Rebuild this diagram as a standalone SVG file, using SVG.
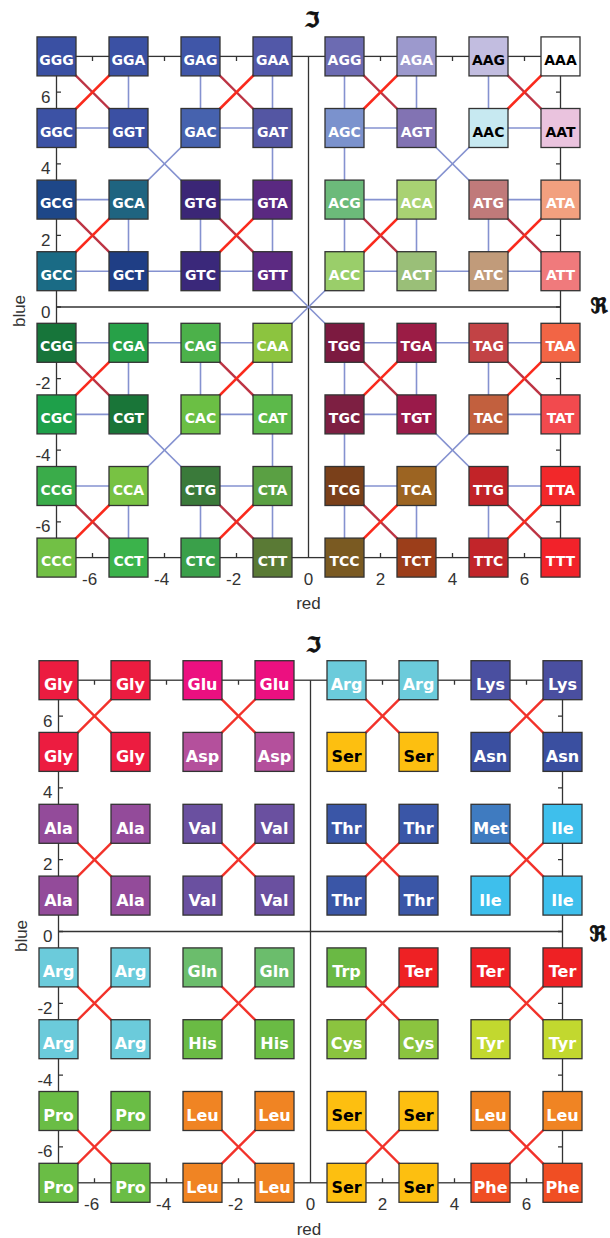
<svg xmlns="http://www.w3.org/2000/svg" width="610" height="1238" viewBox="0 0 610 1238">
<style>
.bg{fill:#fff}
.fr{fill:none;stroke:#333;stroke-width:1.3}
.tk{stroke:#333;stroke-width:1.3}
.b{stroke:#333;stroke-width:1.3}
.t{font-family:"DejaVu Sans",sans-serif;font-weight:bold;font-size:14px;fill:#fff;text-anchor:middle}
.t2{font-family:"DejaVu Sans",sans-serif;font-weight:bold;font-size:16px;fill:#fff;text-anchor:middle}
.k{fill:#000}
.bl{stroke:#8592d0;stroke-width:1.6}
.rd{stroke:#bd3444;stroke-width:2.4}
.rb{stroke:#fa2a1c;stroke-width:2.6}
.r2{stroke:#f2322a;stroke-width:2.4}
.lb{font-family:"Liberation Sans",Arial,sans-serif;font-size:17px;fill:#333}
.le{text-anchor:end}
.lm{text-anchor:middle}
.sy{font-family:"DejaVu Sans",sans-serif;font-weight:bold;font-size:21px;fill:#111;stroke:#111;stroke-width:0.9;text-anchor:middle}
</style>
<rect class="bg" x="0" y="0" width="610" height="1238"/>

<!-- ===== TOP CHART ===== -->
<g id="top-axes">
<rect class="fr" x="56.5" y="56.4" width="504" height="501.2"/>
<line class="fr" x1="308.5" y1="56.4" x2="308.5" y2="557.6"/>
<line class="fr" x1="56.5" y1="307" x2="560.5" y2="307"/>
<path class="tk" d="M92.5 56.4V61M164.5 56.4V61M236.5 56.4V61M380.5 56.4V61M452.5 56.4V61M524.5 56.4V61M92.5 557.6V553M164.5 557.6V553M236.5 557.6V553M380.5 557.6V553M452.5 557.6V553M524.5 557.6V553M56.5 92.2H61M56.5 163.8H61M56.5 235.4H61M56.5 307H61M56.5 378.6H61M56.5 450.2H61M56.5 521.8H61M560.5 92.2H556M560.5 163.8H556M560.5 235.4H556M560.5 307H556M560.5 378.6H556M560.5 450.2H556M560.5 521.8H556"/>
<text class="lb le" x="97.2" y="585">-6</text>
<text class="lb le" x="169.2" y="585">-4</text>
<text class="lb le" x="241.2" y="585">-2</text>
<text class="lb le" x="313.2" y="585">0</text>
<text class="lb le" x="385.2" y="585">2</text>
<text class="lb le" x="457.2" y="585">4</text>
<text class="lb le" x="529.2" y="585">6</text>
<text class="lb le" x="50.5" y="102.7">6</text>
<text class="lb le" x="50.5" y="174.3">4</text>
<text class="lb le" x="50.5" y="245.9">2</text>
<text class="lb le" x="50.5" y="317.5">0</text>
<text class="lb le" x="50.5" y="389.1">-2</text>
<text class="lb le" x="50.5" y="460.7">-4</text>
<text class="lb le" x="50.5" y="532.3">-6</text>
<text class="lb lm" x="308.5" y="609">red</text>
<text class="lb lm" transform="translate(25 311) rotate(-90)">blue</text>
<text class="sy" x="312" y="27">ℑ</text>
<text class="sy" x="599" y="313">ℜ</text>
</g>

<g id="top-connectors">
<g class="bl">
<line x1="128.5" y1="56.4" x2="128.5" y2="128"/>
<line x1="56.5" y1="128" x2="128.5" y2="128"/>
<line x1="200.5" y1="56.4" x2="200.5" y2="128"/>
<line x1="200.5" y1="128" x2="272.5" y2="128"/>
<line x1="272.5" y1="56.4" x2="272.5" y2="128"/>
<line x1="128.5" y1="128" x2="200.5" y2="199.6"/>
<line x1="200.5" y1="128" x2="128.5" y2="199.6"/>
<line x1="272.5" y1="128" x2="272.5" y2="199.6"/>
<line x1="56.5" y1="199.6" x2="128.5" y2="199.6"/>
<line x1="128.5" y1="199.6" x2="128.5" y2="271.2"/>
<line x1="56.5" y1="271.2" x2="128.5" y2="271.2"/>
<line x1="128.5" y1="271.2" x2="200.5" y2="271.2"/>
<line x1="200.5" y1="199.6" x2="272.5" y2="199.6"/>
<line x1="200.5" y1="199.6" x2="200.5" y2="271.2"/>
<line x1="272.5" y1="199.6" x2="272.5" y2="271.2"/>
<line x1="200.5" y1="271.2" x2="272.5" y2="271.2"/>
<line x1="344.5" y1="56.4" x2="344.5" y2="128"/>
<line x1="416.5" y1="56.4" x2="416.5" y2="128"/>
<line x1="344.5" y1="128" x2="416.5" y2="128"/>
<line x1="488.5" y1="56.4" x2="488.5" y2="128"/>
<line x1="488.5" y1="128" x2="560.5" y2="128"/>
<line x1="344.5" y1="128" x2="344.5" y2="199.6"/>
<line x1="416.5" y1="128" x2="488.5" y2="199.6"/>
<line x1="488.5" y1="128" x2="416.5" y2="199.6"/>
<line x1="344.5" y1="199.6" x2="416.5" y2="199.6"/>
<line x1="344.5" y1="199.6" x2="344.5" y2="271.2"/>
<line x1="416.5" y1="199.6" x2="416.5" y2="271.2"/>
<line x1="344.5" y1="271.2" x2="416.5" y2="271.2"/>
<line x1="416.5" y1="271.2" x2="488.5" y2="271.2"/>
<line x1="488.5" y1="199.6" x2="560.5" y2="199.6"/>
<line x1="488.5" y1="199.6" x2="488.5" y2="271.2"/>
<line x1="488.5" y1="271.2" x2="560.5" y2="271.2"/>
<line x1="56.5" y1="342.8" x2="128.5" y2="342.8"/>
<line x1="128.5" y1="342.8" x2="200.5" y2="342.8"/>
<line x1="200.5" y1="342.8" x2="272.5" y2="342.8"/>
<line x1="128.5" y1="342.8" x2="128.5" y2="414.4"/>
<line x1="56.5" y1="414.4" x2="128.5" y2="414.4"/>
<line x1="200.5" y1="342.8" x2="200.5" y2="414.4"/>
<line x1="272.5" y1="342.8" x2="272.5" y2="414.4"/>
<line x1="200.5" y1="414.4" x2="272.5" y2="414.4"/>
<line x1="128.5" y1="414.4" x2="200.5" y2="486"/>
<line x1="200.5" y1="414.4" x2="128.5" y2="486"/>
<line x1="272.5" y1="414.4" x2="272.5" y2="486"/>
<line x1="56.5" y1="486" x2="128.5" y2="486"/>
<line x1="128.5" y1="486" x2="128.5" y2="557.6"/>
<line x1="200.5" y1="486" x2="272.5" y2="486"/>
<line x1="200.5" y1="486" x2="200.5" y2="557.6"/>
<line x1="272.5" y1="486" x2="272.5" y2="557.6"/>
<line x1="344.5" y1="342.8" x2="416.5" y2="342.8"/>
<line x1="416.5" y1="342.8" x2="488.5" y2="342.8"/>
<line x1="488.5" y1="342.8" x2="560.5" y2="342.8"/>
<line x1="344.5" y1="342.8" x2="344.5" y2="414.4"/>
<line x1="416.5" y1="342.8" x2="416.5" y2="414.4"/>
<line x1="344.5" y1="414.4" x2="416.5" y2="414.4"/>
<line x1="488.5" y1="342.8" x2="488.5" y2="414.4"/>
<line x1="488.5" y1="414.4" x2="560.5" y2="414.4"/>
<line x1="344.5" y1="414.4" x2="344.5" y2="486"/>
<line x1="416.5" y1="414.4" x2="488.5" y2="486"/>
<line x1="488.5" y1="414.4" x2="416.5" y2="486"/>
<line x1="344.5" y1="486" x2="416.5" y2="486"/>
<line x1="344.5" y1="486" x2="344.5" y2="557.6"/>
<line x1="416.5" y1="486" x2="416.5" y2="557.6"/>
<line x1="488.5" y1="486" x2="560.5" y2="486"/>
<line x1="488.5" y1="486" x2="488.5" y2="557.6"/>
<line x1="272.5" y1="271.2" x2="344.5" y2="342.8"/>
<line x1="344.5" y1="271.2" x2="272.5" y2="342.8"/>
</g>
<g class="rd">
<line x1="56.5" y1="56.4" x2="128.5" y2="128"/>
<line x1="200.5" y1="56.4" x2="272.5" y2="128"/>
<line x1="344.5" y1="56.4" x2="416.5" y2="128"/>
<line x1="488.5" y1="56.4" x2="560.5" y2="128"/>
<line x1="56.5" y1="199.6" x2="128.5" y2="271.2"/>
<line x1="200.5" y1="199.6" x2="272.5" y2="271.2"/>
<line x1="344.5" y1="199.6" x2="416.5" y2="271.2"/>
<line x1="488.5" y1="199.6" x2="560.5" y2="271.2"/>
<line x1="56.5" y1="342.8" x2="128.5" y2="414.4"/>
<line x1="200.5" y1="342.8" x2="272.5" y2="414.4"/>
<line x1="344.5" y1="342.8" x2="416.5" y2="414.4"/>
<line x1="488.5" y1="342.8" x2="560.5" y2="414.4"/>
<line x1="56.5" y1="486" x2="128.5" y2="557.6"/>
<line x1="200.5" y1="486" x2="272.5" y2="557.6"/>
<line x1="344.5" y1="486" x2="416.5" y2="557.6"/>
<line x1="488.5" y1="486" x2="560.5" y2="557.6"/>
</g>
<g class="rb">
<line x1="56.5" y1="128" x2="128.5" y2="56.4"/>
<line x1="200.5" y1="128" x2="272.5" y2="56.4"/>
<line x1="344.5" y1="128" x2="416.5" y2="56.4"/>
<line x1="488.5" y1="128" x2="560.5" y2="56.4"/>
<line x1="56.5" y1="271.2" x2="128.5" y2="199.6"/>
<line x1="200.5" y1="271.2" x2="272.5" y2="199.6"/>
<line x1="344.5" y1="271.2" x2="416.5" y2="199.6"/>
<line x1="488.5" y1="271.2" x2="560.5" y2="199.6"/>
<line x1="56.5" y1="414.4" x2="128.5" y2="342.8"/>
<line x1="200.5" y1="414.4" x2="272.5" y2="342.8"/>
<line x1="344.5" y1="414.4" x2="416.5" y2="342.8"/>
<line x1="488.5" y1="414.4" x2="560.5" y2="342.8"/>
<line x1="56.5" y1="557.6" x2="128.5" y2="486"/>
<line x1="200.5" y1="557.6" x2="272.5" y2="486"/>
<line x1="344.5" y1="557.6" x2="416.5" y2="486"/>
<line x1="488.5" y1="557.6" x2="560.5" y2="486"/>
</g>
</g>

<g id="top-nodes">
<g id="GGG" transform="translate(56.5 56.4)"><rect class="b" x="-19.5" y="-19.5" width="39" height="39" fill="#3a50a3"/><text class="t" y="8.5">GGG</text></g>
<g id="GGA" transform="translate(128.5 56.4)"><rect class="b" x="-19.5" y="-19.5" width="39" height="39" fill="#3b51a4"/><text class="t" y="8.5">GGA</text></g>
<g id="GAG" transform="translate(200.5 56.4)"><rect class="b" x="-19.5" y="-19.5" width="39" height="39" fill="#4056a8"/><text class="t" y="8.5">GAG</text></g>
<g id="GAA" transform="translate(272.5 56.4)"><rect class="b" x="-19.5" y="-19.5" width="39" height="39" fill="#5258a8"/><text class="t" y="8.5">GAA</text></g>
<g id="AGG" transform="translate(344.5 56.4)"><rect class="b" x="-19.5" y="-19.5" width="39" height="39" fill="#6c6bb2"/><text class="t" y="8.5">AGG</text></g>
<g id="AGA" transform="translate(416.5 56.4)"><rect class="b" x="-19.5" y="-19.5" width="39" height="39" fill="#9c99cd"/><text class="t" y="8.5">AGA</text></g>
<g id="AAG" transform="translate(488.5 56.4)"><rect class="b" x="-19.5" y="-19.5" width="39" height="39" fill="#c2bde0"/><text class="t k" y="8.5">AAG</text></g>
<g id="AAA" transform="translate(560.5 56.4)"><rect class="b" x="-19.5" y="-19.5" width="39" height="39" fill="#ffffff"/><text class="t k" y="8.5">AAA</text></g>

<g id="GGC" transform="translate(56.5 128)"><rect class="b" x="-19.5" y="-19.5" width="39" height="39" fill="#3c52a5"/><text class="t" y="8.5">GGC</text></g>
<g id="GGT" transform="translate(128.5 128)"><rect class="b" x="-19.5" y="-19.5" width="39" height="39" fill="#3b50a3"/><text class="t" y="8.5">GGT</text></g>
<g id="GAC" transform="translate(200.5 128)"><rect class="b" x="-19.5" y="-19.5" width="39" height="39" fill="#4662ae"/><text class="t" y="8.5">GAC</text></g>
<g id="GAT" transform="translate(272.5 128)"><rect class="b" x="-19.5" y="-19.5" width="39" height="39" fill="#5456a3"/><text class="t" y="8.5">GAT</text></g>
<g id="AGC" transform="translate(344.5 128)"><rect class="b" x="-19.5" y="-19.5" width="39" height="39" fill="#7b92cd"/><text class="t" y="8.5">AGC</text></g>
<g id="AGT" transform="translate(416.5 128)"><rect class="b" x="-19.5" y="-19.5" width="39" height="39" fill="#8273b3"/><text class="t" y="8.5">AGT</text></g>
<g id="AAC" transform="translate(488.5 128)"><rect class="b" x="-19.5" y="-19.5" width="39" height="39" fill="#c7e9f1"/><text class="t k" y="8.5">AAC</text></g>
<g id="AAT" transform="translate(560.5 128)"><rect class="b" x="-19.5" y="-19.5" width="39" height="39" fill="#eac3de"/><text class="t k" y="8.5">AAT</text></g>

<g id="GCG" transform="translate(56.5 199.6)"><rect class="b" x="-19.5" y="-19.5" width="39" height="39" fill="#1e4788"/><text class="t" y="8.5">GCG</text></g>
<g id="GCA" transform="translate(128.5 199.6)"><rect class="b" x="-19.5" y="-19.5" width="39" height="39" fill="#1f6480"/><text class="t" y="8.5">GCA</text></g>
<g id="GTG" transform="translate(200.5 199.6)"><rect class="b" x="-19.5" y="-19.5" width="39" height="39" fill="#3b2676"/><text class="t" y="8.5">GTG</text></g>
<g id="GTA" transform="translate(272.5 199.6)"><rect class="b" x="-19.5" y="-19.5" width="39" height="39" fill="#5a2981"/><text class="t" y="8.5">GTA</text></g>
<g id="ACG" transform="translate(344.5 199.6)"><rect class="b" x="-19.5" y="-19.5" width="39" height="39" fill="#6cba7a"/><text class="t" y="8.5">ACG</text></g>
<g id="ACA" transform="translate(416.5 199.6)"><rect class="b" x="-19.5" y="-19.5" width="39" height="39" fill="#a9d273"/><text class="t" y="8.5">ACA</text></g>
<g id="ATG" transform="translate(488.5 199.6)"><rect class="b" x="-19.5" y="-19.5" width="39" height="39" fill="#c07a7a"/><text class="t" y="8.5">ATG</text></g>
<g id="ATA" transform="translate(560.5 199.6)"><rect class="b" x="-19.5" y="-19.5" width="39" height="39" fill="#f2a07f"/><text class="t" y="8.5">ATA</text></g>

<g id="GCC" transform="translate(56.5 271.2)"><rect class="b" x="-19.5" y="-19.5" width="39" height="39" fill="#1a6b85"/><text class="t" y="8.5">GCC</text></g>
<g id="GCT" transform="translate(128.5 271.2)"><rect class="b" x="-19.5" y="-19.5" width="39" height="39" fill="#1f3e85"/><text class="t" y="8.5">GCT</text></g>
<g id="GTC" transform="translate(200.5 271.2)"><rect class="b" x="-19.5" y="-19.5" width="39" height="39" fill="#3a287a"/><text class="t" y="8.5">GTC</text></g>
<g id="GTT" transform="translate(272.5 271.2)"><rect class="b" x="-19.5" y="-19.5" width="39" height="39" fill="#5c2a82"/><text class="t" y="8.5">GTT</text></g>
<g id="ACC" transform="translate(344.5 271.2)"><rect class="b" x="-19.5" y="-19.5" width="39" height="39" fill="#9ace6a"/><text class="t" y="8.5">ACC</text></g>
<g id="ACT" transform="translate(416.5 271.2)"><rect class="b" x="-19.5" y="-19.5" width="39" height="39" fill="#9abf78"/><text class="t" y="8.5">ACT</text></g>
<g id="ATC" transform="translate(488.5 271.2)"><rect class="b" x="-19.5" y="-19.5" width="39" height="39" fill="#c19b7a"/><text class="t" y="8.5">ATC</text></g>
<g id="ATT" transform="translate(560.5 271.2)"><rect class="b" x="-19.5" y="-19.5" width="39" height="39" fill="#f07a7c"/><text class="t" y="8.5">ATT</text></g>

<g id="CGG" transform="translate(56.5 342.8)"><rect class="b" x="-19.5" y="-19.5" width="39" height="39" fill="#17753a"/><text class="t" y="8.5">CGG</text></g>
<g id="CGA" transform="translate(128.5 342.8)"><rect class="b" x="-19.5" y="-19.5" width="39" height="39" fill="#27a148"/><text class="t" y="8.5">CGA</text></g>
<g id="CAG" transform="translate(200.5 342.8)"><rect class="b" x="-19.5" y="-19.5" width="39" height="39" fill="#4cb14a"/><text class="t" y="8.5">CAG</text></g>
<g id="CAA" transform="translate(272.5 342.8)"><rect class="b" x="-19.5" y="-19.5" width="39" height="39" fill="#8cc43f"/><text class="t" y="8.5">CAA</text></g>
<g id="TGG" transform="translate(344.5 342.8)"><rect class="b" x="-19.5" y="-19.5" width="39" height="39" fill="#7c1a40"/><text class="t" y="8.5">TGG</text></g>
<g id="TGA" transform="translate(416.5 342.8)"><rect class="b" x="-19.5" y="-19.5" width="39" height="39" fill="#9b1c45"/><text class="t" y="8.5">TGA</text></g>
<g id="TAG" transform="translate(488.5 342.8)"><rect class="b" x="-19.5" y="-19.5" width="39" height="39" fill="#c24345"/><text class="t" y="8.5">TAG</text></g>
<g id="TAA" transform="translate(560.5 342.8)"><rect class="b" x="-19.5" y="-19.5" width="39" height="39" fill="#f26545"/><text class="t" y="8.5">TAA</text></g>

<g id="CGC" transform="translate(56.5 414.4)"><rect class="b" x="-19.5" y="-19.5" width="39" height="39" fill="#1ea04a"/><text class="t" y="8.5">CGC</text></g>
<g id="CGT" transform="translate(128.5 414.4)"><rect class="b" x="-19.5" y="-19.5" width="39" height="39" fill="#197538"/><text class="t" y="8.5">CGT</text></g>
<g id="CAC" transform="translate(200.5 414.4)"><rect class="b" x="-19.5" y="-19.5" width="39" height="39" fill="#6bbf44"/><text class="t" y="8.5">CAC</text></g>
<g id="CAT" transform="translate(272.5 414.4)"><rect class="b" x="-19.5" y="-19.5" width="39" height="39" fill="#5cb94a"/><text class="t" y="8.5">CAT</text></g>
<g id="TGC" transform="translate(344.5 414.4)"><rect class="b" x="-19.5" y="-19.5" width="39" height="39" fill="#7d1f42"/><text class="t" y="8.5">TGC</text></g>
<g id="TGT" transform="translate(416.5 414.4)"><rect class="b" x="-19.5" y="-19.5" width="39" height="39" fill="#9a1a4a"/><text class="t" y="8.5">TGT</text></g>
<g id="TAC" transform="translate(488.5 414.4)"><rect class="b" x="-19.5" y="-19.5" width="39" height="39" fill="#c2603e"/><text class="t" y="8.5">TAC</text></g>
<g id="TAT" transform="translate(560.5 414.4)"><rect class="b" x="-19.5" y="-19.5" width="39" height="39" fill="#f24a4e"/><text class="t" y="8.5">TAT</text></g>

<g id="CCG" transform="translate(56.5 486)"><rect class="b" x="-19.5" y="-19.5" width="39" height="39" fill="#3aac4a"/><text class="t" y="8.5">CCG</text></g>
<g id="CCA" transform="translate(128.5 486)"><rect class="b" x="-19.5" y="-19.5" width="39" height="39" fill="#78c243"/><text class="t" y="8.5">CCA</text></g>
<g id="CTG" transform="translate(200.5 486)"><rect class="b" x="-19.5" y="-19.5" width="39" height="39" fill="#3a7a3a"/><text class="t" y="8.5">CTG</text></g>
<g id="CTA" transform="translate(272.5 486)"><rect class="b" x="-19.5" y="-19.5" width="39" height="39" fill="#5aa043"/><text class="t" y="8.5">CTA</text></g>
<g id="TCG" transform="translate(344.5 486)"><rect class="b" x="-19.5" y="-19.5" width="39" height="39" fill="#7a401a"/><text class="t" y="8.5">TCG</text></g>
<g id="TCA" transform="translate(416.5 486)"><rect class="b" x="-19.5" y="-19.5" width="39" height="39" fill="#9c6422"/><text class="t" y="8.5">TCA</text></g>
<g id="TTG" transform="translate(488.5 486)"><rect class="b" x="-19.5" y="-19.5" width="39" height="39" fill="#c22328"/><text class="t" y="8.5">TTG</text></g>
<g id="TTA" transform="translate(560.5 486)"><rect class="b" x="-19.5" y="-19.5" width="39" height="39" fill="#f2282a"/><text class="t" y="8.5">TTA</text></g>

<g id="CCC" transform="translate(56.5 557.6)"><rect class="b" x="-19.5" y="-19.5" width="39" height="39" fill="#72c045"/><text class="t" y="8.5">CCC</text></g>
<g id="CCT" transform="translate(128.5 557.6)"><rect class="b" x="-19.5" y="-19.5" width="39" height="39" fill="#3bb34b"/><text class="t" y="8.5">CCT</text></g>
<g id="CTC" transform="translate(200.5 557.6)"><rect class="b" x="-19.5" y="-19.5" width="39" height="39" fill="#3aa04a"/><text class="t" y="8.5">CTC</text></g>
<g id="CTT" transform="translate(272.5 557.6)"><rect class="b" x="-19.5" y="-19.5" width="39" height="39" fill="#5a7a35"/><text class="t" y="8.5">CTT</text></g>
<g id="TCC" transform="translate(344.5 557.6)"><rect class="b" x="-19.5" y="-19.5" width="39" height="39" fill="#7a5a22"/><text class="t" y="8.5">TCC</text></g>
<g id="TCT" transform="translate(416.5 557.6)"><rect class="b" x="-19.5" y="-19.5" width="39" height="39" fill="#9c3e1a"/><text class="t" y="8.5">TCT</text></g>
<g id="TTC" transform="translate(488.5 557.6)"><rect class="b" x="-19.5" y="-19.5" width="39" height="39" fill="#c2252a"/><text class="t" y="8.5">TTC</text></g>
<g id="TTT" transform="translate(560.5 557.6)"><rect class="b" x="-19.5" y="-19.5" width="39" height="39" fill="#f2222a"/><text class="t" y="8.5">TTT</text></g>
</g>

<!-- ===== BOTTOM CHART ===== -->
<g id="bottom-axes">
<rect class="fr" x="58.5" y="680.2" width="504" height="502.6"/>
<line class="fr" x1="310.5" y1="680.2" x2="310.5" y2="1182.8"/>
<line class="fr" x1="58.5" y1="931.5" x2="562.5" y2="931.5"/>
<path class="tk" d="M94.5 680.2V684.7M166.5 680.2V684.7M238.5 680.2V684.7M382.5 680.2V684.7M454.5 680.2V684.7M526.5 680.2V684.7M94.5 1182.8V1178.3M166.5 1182.8V1178.3M238.5 1182.8V1178.3M382.5 1182.8V1178.3M454.5 1182.8V1178.3M526.5 1182.8V1178.3M58.5 716.1H63M58.5 787.9H63M58.5 859.7H63M58.5 931.5H63M58.5 1003.3H63M58.5 1075.1H63M58.5 1146.9H63M562.5 716.1H558M562.5 787.9H558M562.5 859.7H558M562.5 931.5H558M562.5 1003.3H558M562.5 1075.1H558M562.5 1146.9H558"/>
<text class="lb le" x="99.2" y="1210">-6</text>
<text class="lb le" x="171.2" y="1210">-4</text>
<text class="lb le" x="243.2" y="1210">-2</text>
<text class="lb le" x="315.2" y="1210">0</text>
<text class="lb le" x="387.2" y="1210">2</text>
<text class="lb le" x="459.2" y="1210">4</text>
<text class="lb le" x="531.2" y="1210">6</text>
<text class="lb le" x="52.5" y="726.6">6</text>
<text class="lb le" x="52.5" y="798.4">4</text>
<text class="lb le" x="52.5" y="870.2">2</text>
<text class="lb le" x="52.5" y="942">0</text>
<text class="lb le" x="52.5" y="1013.8">-2</text>
<text class="lb le" x="52.5" y="1085.6">-4</text>
<text class="lb le" x="52.5" y="1157.4">-6</text>
<text class="lb lm" x="309" y="1235">red</text>
<text class="lb lm" transform="translate(27 936) rotate(-90)">blue</text>
<text class="sy" x="313.5" y="652">ℑ</text>
<text class="sy" x="598" y="941">ℜ</text>
</g>

<g id="bottom-connectors" class="r2">
<line x1="58.5" y1="680.2" x2="130.5" y2="751.9"/>
<line x1="58.5" y1="751.9" x2="130.5" y2="680.2"/>
<line x1="202.5" y1="680.2" x2="274.5" y2="751.9"/>
<line x1="202.5" y1="751.9" x2="274.5" y2="680.2"/>
<line x1="346.5" y1="680.2" x2="418.5" y2="751.9"/>
<line x1="346.5" y1="751.9" x2="418.5" y2="680.2"/>
<line x1="490.5" y1="680.2" x2="562.5" y2="751.9"/>
<line x1="490.5" y1="751.9" x2="562.5" y2="680.2"/>
<line x1="58.5" y1="823.8" x2="130.5" y2="895.6"/>
<line x1="58.5" y1="895.6" x2="130.5" y2="823.8"/>
<line x1="202.5" y1="823.8" x2="274.5" y2="895.6"/>
<line x1="202.5" y1="895.6" x2="274.5" y2="823.8"/>
<line x1="346.5" y1="823.8" x2="418.5" y2="895.6"/>
<line x1="346.5" y1="895.6" x2="418.5" y2="823.8"/>
<line x1="490.5" y1="823.8" x2="562.5" y2="895.6"/>
<line x1="490.5" y1="895.6" x2="562.5" y2="823.8"/>
<line x1="58.5" y1="967.4" x2="130.5" y2="1039.2"/>
<line x1="58.5" y1="1039.2" x2="130.5" y2="967.4"/>
<line x1="202.5" y1="967.4" x2="274.5" y2="1039.2"/>
<line x1="202.5" y1="1039.2" x2="274.5" y2="967.4"/>
<line x1="346.5" y1="967.4" x2="418.5" y2="1039.2"/>
<line x1="346.5" y1="1039.2" x2="418.5" y2="967.4"/>
<line x1="490.5" y1="967.4" x2="562.5" y2="1039.2"/>
<line x1="490.5" y1="1039.2" x2="562.5" y2="967.4"/>
<line x1="58.5" y1="1111" x2="130.5" y2="1182.8"/>
<line x1="58.5" y1="1182.8" x2="130.5" y2="1111"/>
<line x1="202.5" y1="1111" x2="274.5" y2="1182.8"/>
<line x1="202.5" y1="1182.8" x2="274.5" y2="1111"/>
<line x1="346.5" y1="1111" x2="418.5" y2="1182.8"/>
<line x1="346.5" y1="1182.8" x2="418.5" y2="1111"/>
<line x1="490.5" y1="1111" x2="562.5" y2="1182.8"/>
<line x1="490.5" y1="1182.8" x2="562.5" y2="1111"/>
</g>

<g id="bottom-nodes">
<g id="aa-r1c1" transform="translate(58.5 680.2)"><rect class="b" x="-19.5" y="-19.5" width="39" height="39" fill="#ec1c40"/><text class="t2" y="10">Gly</text></g>
<g id="aa-r1c2" transform="translate(130.5 680.2)"><rect class="b" x="-19.5" y="-19.5" width="39" height="39" fill="#ec1c40"/><text class="t2" y="10">Gly</text></g>
<g id="aa-r1c3" transform="translate(202.5 680.2)"><rect class="b" x="-19.5" y="-19.5" width="39" height="39" fill="#ec1080"/><text class="t2" y="10">Glu</text></g>
<g id="aa-r1c4" transform="translate(274.5 680.2)"><rect class="b" x="-19.5" y="-19.5" width="39" height="39" fill="#ec1080"/><text class="t2" y="10">Glu</text></g>
<g id="aa-r1c5" transform="translate(346.5 680.2)"><rect class="b" x="-19.5" y="-19.5" width="39" height="39" fill="#6bcbdb"/><text class="t2" y="10">Arg</text></g>
<g id="aa-r1c6" transform="translate(418.5 680.2)"><rect class="b" x="-19.5" y="-19.5" width="39" height="39" fill="#6bcbdb"/><text class="t2" y="10">Arg</text></g>
<g id="aa-r1c7" transform="translate(490.5 680.2)"><rect class="b" x="-19.5" y="-19.5" width="39" height="39" fill="#4a4fa0"/><text class="t2" y="10">Lys</text></g>
<g id="aa-r1c8" transform="translate(562.5 680.2)"><rect class="b" x="-19.5" y="-19.5" width="39" height="39" fill="#4a4fa0"/><text class="t2" y="10">Lys</text></g>

<g id="aa-r2c1" transform="translate(58.5 751.9)"><rect class="b" x="-19.5" y="-19.5" width="39" height="39" fill="#ec1c40"/><text class="t2" y="10">Gly</text></g>
<g id="aa-r2c2" transform="translate(130.5 751.9)"><rect class="b" x="-19.5" y="-19.5" width="39" height="39" fill="#ec1c40"/><text class="t2" y="10">Gly</text></g>
<g id="aa-r2c3" transform="translate(202.5 751.9)"><rect class="b" x="-19.5" y="-19.5" width="39" height="39" fill="#b4509c"/><text class="t2" y="10">Asp</text></g>
<g id="aa-r2c4" transform="translate(274.5 751.9)"><rect class="b" x="-19.5" y="-19.5" width="39" height="39" fill="#b4509c"/><text class="t2" y="10">Asp</text></g>
<g id="aa-r2c5" transform="translate(346.5 751.9)"><rect class="b" x="-19.5" y="-19.5" width="39" height="39" fill="#fdbf10"/><text class="t2 k" y="10">Ser</text></g>
<g id="aa-r2c6" transform="translate(418.5 751.9)"><rect class="b" x="-19.5" y="-19.5" width="39" height="39" fill="#fdbf10"/><text class="t2 k" y="10">Ser</text></g>
<g id="aa-r2c7" transform="translate(490.5 751.9)"><rect class="b" x="-19.5" y="-19.5" width="39" height="39" fill="#3a4fa0"/><text class="t2" y="10">Asn</text></g>
<g id="aa-r2c8" transform="translate(562.5 751.9)"><rect class="b" x="-19.5" y="-19.5" width="39" height="39" fill="#3a4fa0"/><text class="t2" y="10">Asn</text></g>

<g id="aa-r3c1" transform="translate(58.5 823.8)"><rect class="b" x="-19.5" y="-19.5" width="39" height="39" fill="#934b9a"/><text class="t2" y="10">Ala</text></g>
<g id="aa-r3c2" transform="translate(130.5 823.8)"><rect class="b" x="-19.5" y="-19.5" width="39" height="39" fill="#934b9a"/><text class="t2" y="10">Ala</text></g>
<g id="aa-r3c3" transform="translate(202.5 823.8)"><rect class="b" x="-19.5" y="-19.5" width="39" height="39" fill="#6a50a0"/><text class="t2" y="10">Val</text></g>
<g id="aa-r3c4" transform="translate(274.5 823.8)"><rect class="b" x="-19.5" y="-19.5" width="39" height="39" fill="#6a50a0"/><text class="t2" y="10">Val</text></g>
<g id="aa-r3c5" transform="translate(346.5 823.8)"><rect class="b" x="-19.5" y="-19.5" width="39" height="39" fill="#3a56a7"/><text class="t2" y="10">Thr</text></g>
<g id="aa-r3c6" transform="translate(418.5 823.8)"><rect class="b" x="-19.5" y="-19.5" width="39" height="39" fill="#3a56a7"/><text class="t2" y="10">Thr</text></g>
<g id="aa-r3c7" transform="translate(490.5 823.8)"><rect class="b" x="-19.5" y="-19.5" width="39" height="39" fill="#3f7bc0"/><text class="t2" y="10">Met</text></g>
<g id="aa-r3c8" transform="translate(562.5 823.8)"><rect class="b" x="-19.5" y="-19.5" width="39" height="39" fill="#3ebfec"/><text class="t2" y="10">Ile</text></g>

<g id="aa-r4c1" transform="translate(58.5 895.6)"><rect class="b" x="-19.5" y="-19.5" width="39" height="39" fill="#934b9a"/><text class="t2" y="10">Ala</text></g>
<g id="aa-r4c2" transform="translate(130.5 895.6)"><rect class="b" x="-19.5" y="-19.5" width="39" height="39" fill="#934b9a"/><text class="t2" y="10">Ala</text></g>
<g id="aa-r4c3" transform="translate(202.5 895.6)"><rect class="b" x="-19.5" y="-19.5" width="39" height="39" fill="#6a50a0"/><text class="t2" y="10">Val</text></g>
<g id="aa-r4c4" transform="translate(274.5 895.6)"><rect class="b" x="-19.5" y="-19.5" width="39" height="39" fill="#6a50a0"/><text class="t2" y="10">Val</text></g>
<g id="aa-r4c5" transform="translate(346.5 895.6)"><rect class="b" x="-19.5" y="-19.5" width="39" height="39" fill="#3a56a7"/><text class="t2" y="10">Thr</text></g>
<g id="aa-r4c6" transform="translate(418.5 895.6)"><rect class="b" x="-19.5" y="-19.5" width="39" height="39" fill="#3a56a7"/><text class="t2" y="10">Thr</text></g>
<g id="aa-r4c7" transform="translate(490.5 895.6)"><rect class="b" x="-19.5" y="-19.5" width="39" height="39" fill="#3ebfec"/><text class="t2" y="10">Ile</text></g>
<g id="aa-r4c8" transform="translate(562.5 895.6)"><rect class="b" x="-19.5" y="-19.5" width="39" height="39" fill="#3ebfec"/><text class="t2" y="10">Ile</text></g>

<g id="aa-r5c1" transform="translate(58.5 967.4)"><rect class="b" x="-19.5" y="-19.5" width="39" height="39" fill="#6bcbdb"/><text class="t2" y="10">Arg</text></g>
<g id="aa-r5c2" transform="translate(130.5 967.4)"><rect class="b" x="-19.5" y="-19.5" width="39" height="39" fill="#6bcbdb"/><text class="t2" y="10">Arg</text></g>
<g id="aa-r5c3" transform="translate(202.5 967.4)"><rect class="b" x="-19.5" y="-19.5" width="39" height="39" fill="#6bbd6c"/><text class="t2" y="10">Gln</text></g>
<g id="aa-r5c4" transform="translate(274.5 967.4)"><rect class="b" x="-19.5" y="-19.5" width="39" height="39" fill="#6bbd6c"/><text class="t2" y="10">Gln</text></g>
<g id="aa-r5c5" transform="translate(346.5 967.4)"><rect class="b" x="-19.5" y="-19.5" width="39" height="39" fill="#6ab944"/><text class="t2" y="10">Trp</text></g>
<g id="aa-r5c6" transform="translate(418.5 967.4)"><rect class="b" x="-19.5" y="-19.5" width="39" height="39" fill="#ee2124"/><text class="t2" y="10">Ter</text></g>
<g id="aa-r5c7" transform="translate(490.5 967.4)"><rect class="b" x="-19.5" y="-19.5" width="39" height="39" fill="#ee2124"/><text class="t2" y="10">Ter</text></g>
<g id="aa-r5c8" transform="translate(562.5 967.4)"><rect class="b" x="-19.5" y="-19.5" width="39" height="39" fill="#ee2124"/><text class="t2" y="10">Ter</text></g>

<g id="aa-r6c1" transform="translate(58.5 1039.2)"><rect class="b" x="-19.5" y="-19.5" width="39" height="39" fill="#6bcbdb"/><text class="t2" y="10">Arg</text></g>
<g id="aa-r6c2" transform="translate(130.5 1039.2)"><rect class="b" x="-19.5" y="-19.5" width="39" height="39" fill="#6bcbdb"/><text class="t2" y="10">Arg</text></g>
<g id="aa-r6c3" transform="translate(202.5 1039.2)"><rect class="b" x="-19.5" y="-19.5" width="39" height="39" fill="#6abb44"/><text class="t2" y="10">His</text></g>
<g id="aa-r6c4" transform="translate(274.5 1039.2)"><rect class="b" x="-19.5" y="-19.5" width="39" height="39" fill="#6abb44"/><text class="t2" y="10">His</text></g>
<g id="aa-r6c5" transform="translate(346.5 1039.2)"><rect class="b" x="-19.5" y="-19.5" width="39" height="39" fill="#8bc43f"/><text class="t2" y="10">Cys</text></g>
<g id="aa-r6c6" transform="translate(418.5 1039.2)"><rect class="b" x="-19.5" y="-19.5" width="39" height="39" fill="#8bc43f"/><text class="t2" y="10">Cys</text></g>
<g id="aa-r6c7" transform="translate(490.5 1039.2)"><rect class="b" x="-19.5" y="-19.5" width="39" height="39" fill="#c2d82f"/><text class="t2" y="10">Tyr</text></g>
<g id="aa-r6c8" transform="translate(562.5 1039.2)"><rect class="b" x="-19.5" y="-19.5" width="39" height="39" fill="#c2d82f"/><text class="t2" y="10">Tyr</text></g>

<g id="aa-r7c1" transform="translate(58.5 1111)"><rect class="b" x="-19.5" y="-19.5" width="39" height="39" fill="#6abd45"/><text class="t2" y="10">Pro</text></g>
<g id="aa-r7c2" transform="translate(130.5 1111)"><rect class="b" x="-19.5" y="-19.5" width="39" height="39" fill="#6abd45"/><text class="t2" y="10">Pro</text></g>
<g id="aa-r7c3" transform="translate(202.5 1111)"><rect class="b" x="-19.5" y="-19.5" width="39" height="39" fill="#f08423"/><text class="t2" y="10">Leu</text></g>
<g id="aa-r7c4" transform="translate(274.5 1111)"><rect class="b" x="-19.5" y="-19.5" width="39" height="39" fill="#f08423"/><text class="t2" y="10">Leu</text></g>
<g id="aa-r7c5" transform="translate(346.5 1111)"><rect class="b" x="-19.5" y="-19.5" width="39" height="39" fill="#fdbf10"/><text class="t2 k" y="10">Ser</text></g>
<g id="aa-r7c6" transform="translate(418.5 1111)"><rect class="b" x="-19.5" y="-19.5" width="39" height="39" fill="#fdbf10"/><text class="t2 k" y="10">Ser</text></g>
<g id="aa-r7c7" transform="translate(490.5 1111)"><rect class="b" x="-19.5" y="-19.5" width="39" height="39" fill="#f08423"/><text class="t2" y="10">Leu</text></g>
<g id="aa-r7c8" transform="translate(562.5 1111)"><rect class="b" x="-19.5" y="-19.5" width="39" height="39" fill="#f08423"/><text class="t2" y="10">Leu</text></g>

<g id="aa-r8c1" transform="translate(58.5 1182.8)"><rect class="b" x="-19.5" y="-19.5" width="39" height="39" fill="#6abd45"/><text class="t2" y="10">Pro</text></g>
<g id="aa-r8c2" transform="translate(130.5 1182.8)"><rect class="b" x="-19.5" y="-19.5" width="39" height="39" fill="#6abd45"/><text class="t2" y="10">Pro</text></g>
<g id="aa-r8c3" transform="translate(202.5 1182.8)"><rect class="b" x="-19.5" y="-19.5" width="39" height="39" fill="#f08423"/><text class="t2" y="10">Leu</text></g>
<g id="aa-r8c4" transform="translate(274.5 1182.8)"><rect class="b" x="-19.5" y="-19.5" width="39" height="39" fill="#f08423"/><text class="t2" y="10">Leu</text></g>
<g id="aa-r8c5" transform="translate(346.5 1182.8)"><rect class="b" x="-19.5" y="-19.5" width="39" height="39" fill="#fdbf10"/><text class="t2 k" y="10">Ser</text></g>
<g id="aa-r8c6" transform="translate(418.5 1182.8)"><rect class="b" x="-19.5" y="-19.5" width="39" height="39" fill="#fdbf10"/><text class="t2 k" y="10">Ser</text></g>
<g id="aa-r8c7" transform="translate(490.5 1182.8)"><rect class="b" x="-19.5" y="-19.5" width="39" height="39" fill="#f04e23"/><text class="t2" y="10">Phe</text></g>
<g id="aa-r8c8" transform="translate(562.5 1182.8)"><rect class="b" x="-19.5" y="-19.5" width="39" height="39" fill="#f04e23"/><text class="t2" y="10">Phe</text></g>
</g>
</svg>
